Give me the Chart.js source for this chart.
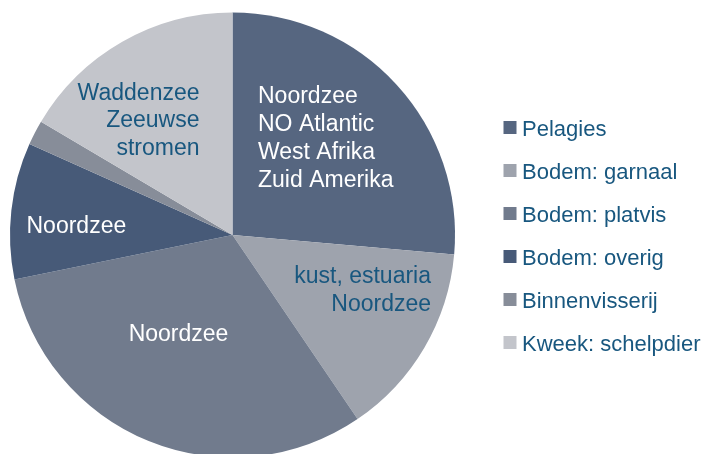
<!DOCTYPE html>
<html>
<head>
<meta charset="utf-8">
<script src="https://cdn.jsdelivr.net/npm/chart.js@4/dist/chart.umd.min.js"></script>
<style>
html,body{margin:0;padding:0;width:707px;height:454px;overflow:hidden;background:#fff;}
#wrap{position:absolute;left:0;top:0;width:707px;height:470px;}
</style>
</head>
<body>
<div id="wrap"><canvas id="c" width="707" height="470"></canvas></div>
<script>
const categories = ['Pelagies', 'Bodem: garnaal', 'Bodem: platvis', 'Bodem: overig', 'Binnenvisserij', 'Kweek: schelpdier'];
const shares = [26.4, 14.1, 31.3, 9.9, 1.8, 16.5];
const sliceColors = ['#566680', '#9ea3ad', '#717b8d', '#475a78', '#878d99', '#c3c5cb'];
const sliceTexts = [
  ['Noordzee', 'NO Atlantic', 'West Afrika', 'Zuid Amerika'],
  ['kust, estuaria', 'Noordzee'],
  ['Noordzee'],
  ['Noordzee'],
  [],
  ['Waddenzee', 'Zeeuwse', 'stromen']
];

const TEXT_BLUE = '#18577f';
const FONT = '"Liberation Sans", Arial, sans-serif';

// label placement (layout only)
const labelLayout = [
  {x: 258, y: 103.3, align: 'left', color: '#ffffff'},
  {x: 431, y: 283, align: 'right', color: TEXT_BLUE},
  {x: 178.5, y: 340.5, align: 'center', color: '#ffffff'},
  {x: 26.5, y: 233, align: 'left', color: '#ffffff'},
  null,
  {x: 199.5, y: 99.5, align: 'right', color: TEXT_BLUE}
];

const labelPlugin = {
  id: 'sliceLabels',
  afterDatasetsDraw(chart) {
    const ctx = chart.ctx;
    ctx.save();
    ctx.font = '23px ' + FONT;
    ctx.textBaseline = 'alphabetic';
    sliceTexts.forEach((lines, i) => {
      const l = labelLayout[i];
      if (!l) return;
      ctx.fillStyle = l.color;
      ctx.textAlign = l.align;
      lines.forEach((t, k) => ctx.fillText(t, l.x, l.y + k * 27.8));
    });
    ctx.restore();
  }
};

const legendPlugin = {
  id: 'sideLegend',
  afterDraw(chart) {
    const ctx = chart.ctx;
    ctx.save();
    ctx.font = '22px ' + FONT;
    ctx.textAlign = 'left';
    ctx.textBaseline = 'alphabetic';
    categories.forEach((name, i) => {
      const cy = 127.5 + i * 43;
      ctx.fillStyle = sliceColors[i];
      ctx.fillRect(503.5, cy - 6.5, 13, 13);
      ctx.fillStyle = TEXT_BLUE;
      ctx.fillText(name, 522, cy + 8.5);
    });
    ctx.restore();
  }
};

new Chart(document.getElementById('c'), {
  type: 'pie',
  data: {
    labels: categories,
    datasets: [{
      data: shares,
      backgroundColor: sliceColors,
      borderWidth: 0
    }]
  },
  options: {
    responsive: false,
    animation: false,
    devicePixelRatio: 1,
    layout: {padding: {top: 12.5, bottom: 12.5, left: 10, right: 252}},
    plugins: {
      legend: {display: false},
      tooltip: {enabled: false}
    }
  },
  plugins: [labelPlugin, legendPlugin]
});
</script>
</body>
</html>
